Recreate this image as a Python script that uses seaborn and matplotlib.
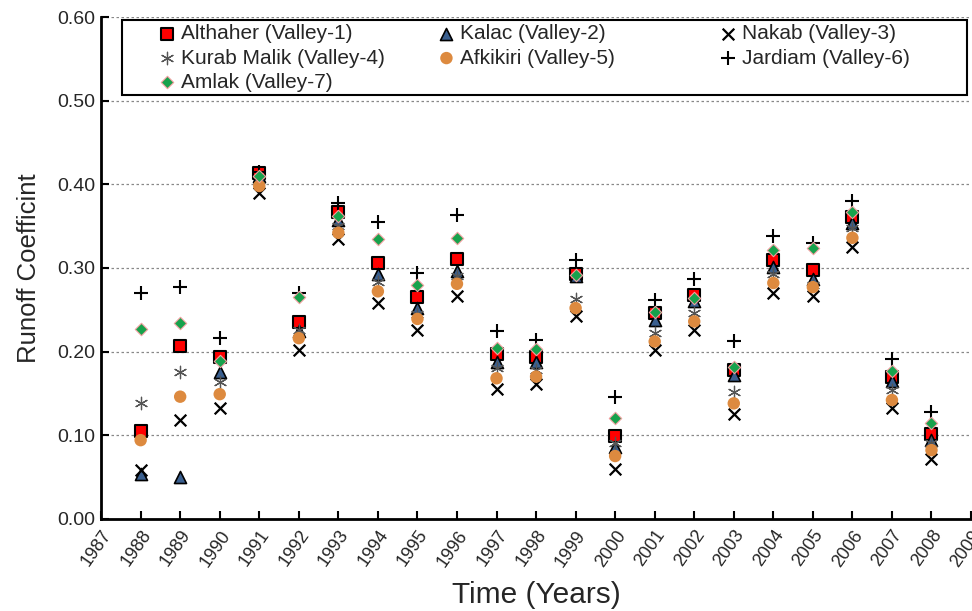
import matplotlib
matplotlib.use("Agg")
import matplotlib.pyplot as plt
import matplotlib.patches as mpatches
import seaborn as sns
import pandas as pd
from matplotlib.ticker import FormatStrFormatter, MultipleLocator

years = list(range(1988, 2009))

althaher = [0.105, 0.207, 0.194, 0.413, 0.235, 0.367, 0.306, 0.265, 0.311, 0.197, 0.193,
            0.293, 0.099, 0.246, 0.268, 0.178, 0.310, 0.298, 0.361, 0.170, 0.101]
kalac    = [0.054, 0.050, 0.176, 0.410, 0.225, 0.357, 0.293, 0.252, 0.296, 0.188, 0.187,
            0.290, 0.086, 0.238, 0.260, 0.172, 0.301, 0.287, 0.354, 0.165, 0.094]
nakab    = [0.058, 0.118, 0.133, 0.390, 0.202, 0.334, 0.258, 0.226, 0.267, 0.155, 0.161,
            0.243, 0.059, 0.202, 0.226, 0.125, 0.270, 0.266, 0.325, 0.133, 0.072]
kurab    = [0.139, 0.176, 0.164, 0.405, 0.226, 0.350, 0.283, 0.245, 0.290, 0.180, 0.178,
            0.263, 0.090, 0.222, 0.246, 0.152, 0.293, 0.280, 0.348, 0.154, 0.090]
afkikiri = [0.094, 0.146, 0.149, 0.398, 0.216, 0.342, 0.272, 0.239, 0.281, 0.168, 0.170,
            0.252, 0.075, 0.212, 0.236, 0.138, 0.282, 0.277, 0.336, 0.142, 0.082]
jardiam  = [0.270, 0.277, 0.216, 0.415, 0.270, 0.378, 0.355, 0.294, 0.363, 0.224, 0.214,
            0.310, 0.146, 0.262, 0.287, 0.212, 0.338, 0.330, 0.380, 0.191, 0.128]
amlak    = [0.227, 0.234, 0.189, 0.410, 0.265, 0.362, 0.335, 0.280, 0.336, 0.204, 0.203,
            0.291, 0.121, 0.247, 0.264, 0.181, 0.322, 0.324, 0.367, 0.177, 0.115]

series_names = ["Althaher (Valley-1)", "Kalac (Valley-2)", "Nakab (Valley-3)",
                "Kurab Malik (Valley-4)", "Afkikiri (Valley-5)", "Jardiam (Valley-6)",
                "Amlak (Valley-7)"]
series_values = [althaher, kalac, nakab, kurab, afkikiri, jardiam, amlak]
tick_years = list(range(1987, 2010))

styles = [
    dict(marker="s", color="#ff0000", edgecolor="black", s=75, linewidth=1.5),
    dict(marker="^", color="#3a5f8f", edgecolor="black", s=75, linewidth=1.2),
    dict(marker="x", color="black", s=70, linewidth=1.6),
    dict(marker=(6, 2, 0), color="#555555", s=80, linewidth=0.9),
    dict(marker="o", color="#dd8a3f", edgecolor="none", s=80, linewidth=0),
    dict(marker="+", color="black", s=90, linewidth=1.5),
    dict(marker="D", color="#17a24c", edgecolor="#f0a0a0", s=40, linewidth=0.8),
]

sns.set_theme(style="white")
plt.rcParams['font.family'] = ['Liberation Sans', 'DejaVu Sans']

fig = plt.figure(figsize=(9.72, 6.11), dpi=100)
ax = fig.add_axes([0.104, 0.151, 0.895, 0.821])

for name, vals, st in zip(series_names, series_values, styles):
    df = pd.DataFrame({"Year": years, "Value": vals})
    sns.scatterplot(data=df, x="Year", y="Value", ax=ax, label=name, zorder=3,
                    legend="auto", **st)

ax.set_xlim(1987, 2009)
ax.set_ylim(0, 0.6)
ax.yaxis.set_major_locator(MultipleLocator(0.1))
ax.yaxis.set_major_formatter(FormatStrFormatter("%.2f"))
ax.set_xticks(tick_years)
ax.set_xticklabels([str(y) for y in tick_years], rotation=55,
                   ha="right", rotation_mode="anchor", fontsize=13)
for lbl in ax.get_yticklabels():
    lbl.set_fontsize(14)

ax.grid(axis="y", linestyle=(0, (2, 2)), color="#888888", linewidth=0.9, zorder=0)
ax.grid(axis="x", visible=False)
ax.set_axisbelow(True)

for sp in ["top", "right"]:
    ax.spines[sp].set_visible(False)
for sp in ["left", "bottom"]:
    ax.spines[sp].set_color("black")
    ax.spines[sp].set_linewidth(2)

ax.tick_params(axis="both", direction="in", length=6, width=1.5, color="black",
               left=True, bottom=True)
ax.tick_params(axis="y", pad=4)
ax.tick_params(axis="x", pad=6)

ax.set_xlabel("Time (Years)", fontsize=21.5, labelpad=8)
ax.set_ylabel("Runoff Coefficint", fontsize=18.5, labelpad=12)

handles, labels = ax.get_legend_handles_labels()
if ax.get_legend():
    ax.get_legend().remove()

# legend frame box
box = mpatches.Rectangle((0.024, 0.845), 0.971, 0.149, transform=ax.transAxes,
                         facecolor="white", edgecolor="black", linewidth=1.5,
                         zorder=4, clip_on=False)
ax.add_patch(box)

columns = [[0, 3, 6], [1, 4], [2, 5]]
col_x = [0.064, 0.385, 0.709]
legs = []
for idx, cx in zip(columns, col_x):
    leg = ax.legend([handles[i] for i in idx], [labels[i] for i in idx],
                    loc="upper left", bbox_to_anchor=(cx, 0.986),
                    bbox_transform=ax.transAxes, frameon=False, fontsize=15,
                    handletextpad=0.15, borderpad=0.0, labelspacing=0.26,
                    handlelength=1.0, borderaxespad=0.0)
    leg.set_zorder(6)
    legs.append(leg)
for leg in legs[:-1]:
    ax.add_artist(leg)

fig.savefig("out.png", dpi=100)
